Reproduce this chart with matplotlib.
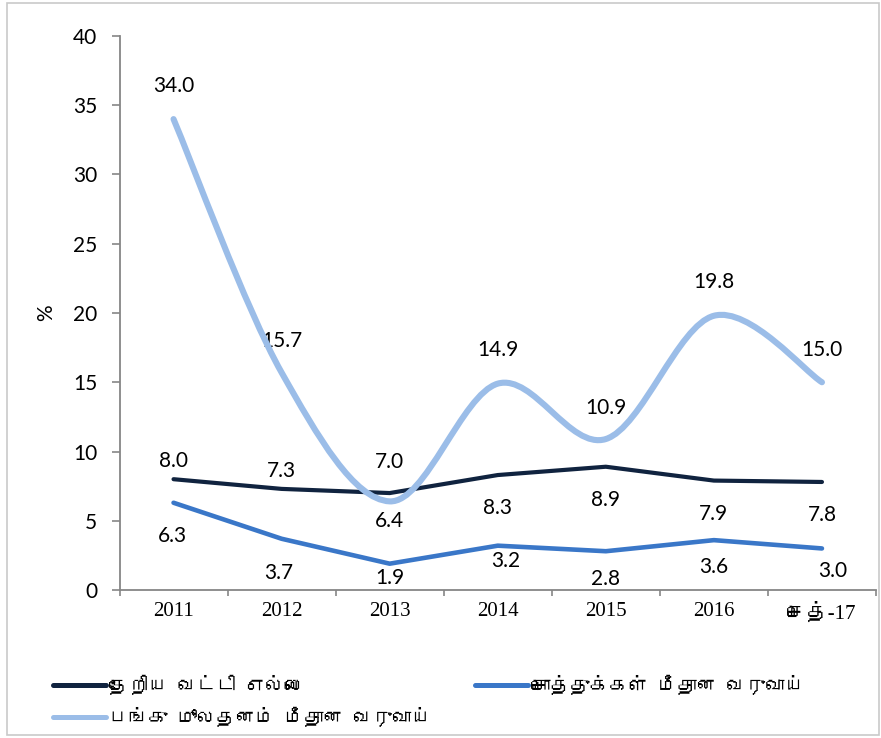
import numpy as np
import matplotlib
matplotlib.use("Agg")
import matplotlib.pyplot as plt
from matplotlib import font_manager, ft2font
from matplotlib.path import Path
from matplotlib.patches import PathPatch, Rectangle
from matplotlib.lines import Line2D

# ---- data -------------------------------------------------------------
categories = ["2011", "2012", "2013", "2014", "2015", "2016", "செத்-17"]
national_rate = [8.0, 7.3, 7.0, 8.3, 8.9, 7.9, 7.8]
return_on_assets = [6.3, 3.7, 1.9, 3.2, 2.8, 3.6, 3.0]
return_on_equity = [34.0, 15.7, 6.4, 14.9, 10.9, 19.8, 15.0]
series_names = ["தேறிய வட்டி எல்லை",
                "சொத்துக்கள் மீதான வருவாய்",
                "பங்கு மூலதனம் மீதான வருவாய்"]
y_ticks = [0, 5, 10, 15, 20, 25, 30, 35, 40]

# label offsets (points) relative to each point
rate_offsets = [13, 13, 22, -24, -24, -24, -24]
assets_offsets = [-24, -25, -10, -11, -20, -19, -16]
equity_offsets = [24, 23, -14, 24, 22, 24, 23]
assets_dx = [-1, -2, 0, 6, 0, 0, 8]

C_DARK = "#10233f"
C_MID = "#3a77c8"
C_LIGHT = "#9bbde8"


def find_family(ch):
    for f in font_manager.fontManager.ttflist:
        try:
            if ord(ch) in ft2font.FT2Font(f.fname).get_charmap():
                return f.name
        except Exception:
            pass
    return None


tamil = find_family("த")
tamil_family = [tamil, "DejaVu Sans"] if tamil else ["DejaVu Sans"]

label_font = ["Lato", "DejaVu Sans"]
tick_serif = ["Liberation Serif"] + tamil_family

fig = plt.figure(figsize=(8.81, 7.38), dpi=100)
ax = fig.add_axes([119.5 / 881, 1 - 590 / 738, (876 - 119.5) / 881, (590 - 36) / 738])

x = np.arange(len(categories))

ax.plot(x, national_rate, color=C_DARK, lw=3.0, solid_capstyle="round",
        solid_joinstyle="round", zorder=3)
ax.plot(x, return_on_assets, color=C_MID, lw=3.3, solid_capstyle="round",
        solid_joinstyle="round", zorder=3)

# smoothed line (cubic Bezier through the points)
pts = np.column_stack([x, return_on_equity]).astype(float)
verts = [tuple(pts[0])]
codes = [Path.MOVETO]
n = len(pts)
for i in range(n - 1):
    p0 = pts[i - 1] if i > 0 else pts[i]
    p1 = pts[i]
    p2 = pts[i + 1]
    p3 = pts[i + 2] if i + 2 < n else pts[i + 1]
    c1 = p1 + (p2 - p0) / 6.0
    c2 = p2 - (p3 - p1) / 6.0
    verts += [tuple(c1), tuple(c2), tuple(p2)]
    codes += [Path.CURVE4] * 3
ax.add_patch(PathPatch(Path(verts, codes), fill=False, edgecolor=C_LIGHT,
                       lw=4.4, capstyle="round", joinstyle="round", zorder=4))

# data labels
LABEL_SIZE = 15
for xi, v, dy in zip(x, national_rate, rate_offsets):
    ax.annotate(f"{v:.1f}", (xi, v), xytext=(0, dy), textcoords="offset points",
                ha="center", va="center", fontsize=LABEL_SIZE, family=label_font, color="black")
for xi, v, dy, dx in zip(x, return_on_assets, assets_offsets, assets_dx):
    ax.annotate(f"{v:.1f}", (xi, v), xytext=(dx, dy), textcoords="offset points",
                ha="center", va="center", fontsize=LABEL_SIZE, family=label_font, color="black")
for xi, v, dy in zip(x, return_on_equity, equity_offsets):
    ax.annotate(f"{v:.1f}", (xi, v), xytext=(0, dy), textcoords="offset points",
                ha="center", va="center", fontsize=LABEL_SIZE, family=label_font, color="black")

# axes styling
ax.set_xlim(-0.5, len(categories) - 0.5)
ax.set_ylim(0, 40)
ax.set_yticks(y_ticks)
ax.set_yticklabels([str(t) for t in y_ticks], fontsize=15, family=label_font)
ax.set_xticks(x)
ax.set_xticklabels(categories, fontsize=15, family=tick_serif)
ax.tick_params(axis="x", length=0, pad=9)
ax.set_xticks(np.arange(-0.5, len(categories)), minor=True)
ax.tick_params(axis="x", which="minor", length=4, color="#868686", width=1.2)
ax.tick_params(axis="y", length=6, color="#868686", width=1.2, pad=10)
for s in ["top", "right"]:
    ax.spines[s].set_visible(False)
for s in ["left", "bottom"]:
    ax.spines[s].set_color("#868686")
    ax.spines[s].set_linewidth(1.3)
ax.set_ylabel("%", fontsize=15, family=label_font, labelpad=12)

# legend
handles = [Line2D([], [], color=c, lw=lw, solid_capstyle="round")
           for c, lw in [(C_DARK, 3.6), (C_MID, 3.6), (C_LIGHT, 3.6)]]
order = [0, 2, 1]
fig.legend([handles[i] for i in order], [series_names[i] for i in order],
           loc="upper left", bbox_to_anchor=(45 / 881, 1 - 667 / 738), ncol=2,
           frameon=False, prop={"family": tamil_family, "size": 14},
           handlelength=2.75, handletextpad=0.15, columnspacing=2.25,
           labelspacing=0.6, borderaxespad=0)

# outer frame
fig.add_artist(Rectangle((7 / 881, 3 / 738), 872 / 881, 732 / 738,
                         transform=fig.transFigure, fill=False,
                         edgecolor="#c9c9c9", lw=1.2))

fig.savefig("out.png", dpi=100)
